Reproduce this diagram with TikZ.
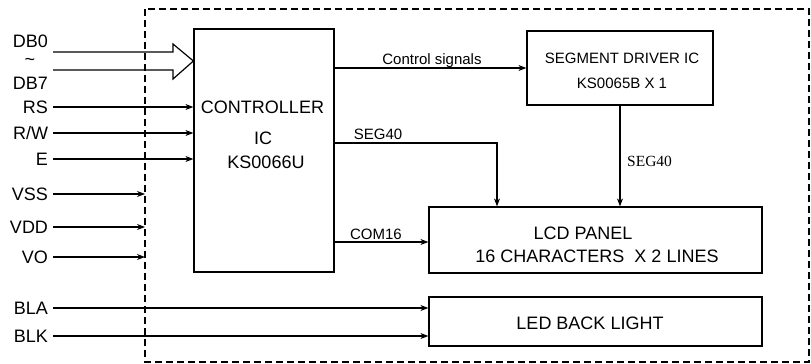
\documentclass[tikz,border=0pt]{standalone}
\usepackage{fontspec}
\setmainfont{Liberation Sans}
\newfontfamily\seriffont{Liberation Serif}
\usetikzlibrary{arrows.meta}

\tikzset{
  box/.style={draw, line width=1.2pt, inner sep=0pt},
  pin/.style={font=\fontsize{18}{20}\selectfont, anchor=east, inner sep=0pt, outer xsep=5pt, text height=13pt, text depth=0pt},
  txt/.style={font=\fontsize{18}{20}\selectfont, inner sep=0pt, text height=13pt, text depth=0pt},
  sig/.style={font=\fontsize{15}{17}\selectfont, inner sep=0pt, text height=11pt, text depth=0pt},
  wire/.style={line width=1.2pt, -{Stealth[length=8pt,width=6pt]}},
}

\begin{document}
\begin{tikzpicture}[x=1pt,y=-1pt]
    \useasboundingbox (0,0) rectangle (811,364);

    % Module outline
    \draw[line width=1.2pt, dash pattern=on 7pt off 4pt] (145,9) rectangle (809,362);
    \coordinate (mod) at (145,9);

    % Blocks
    \node[box, minimum width=140pt, minimum height=243pt] (ctrl) at (264,150.5) {};
    \node[box, minimum width=186pt, minimum height=74pt] (seg) at (620,68) {};
    \node[box, minimum width=333pt, minimum height=66pt] (lcd) at (595.5,240) {};
    \node[box, minimum width=333pt, minimum height=49pt] (led) at (595.5,321.5) {};

    % Block texts
    \node[txt] (ctrlA) at (262.5,107) {CONTROLLER};
    \node[txt] (ctrlB) at (263,138) {IC};
    \node[txt] (ctrlC) at (266,162) {KS0066U};
    \node[sig] (segA) at (622,58) {SEGMENT DRIVER IC};
    \node[sig] (segB) at (622,83) {KS0065B X 1};
    \node[txt] (lcdA) at (583,233) {LCD PANEL};
    \node[txt] (lcdB) at (597,256) {16 CHARACTERS\ \ X 2 LINES};
    \node[txt] (ledA) at (590,323) {LED BACK LIGHT};

    % Pin names
    \node[pin] (db0) at (53,41) {DB0};
    \node[txt] (tilde) at (30,62) {\raisebox{3pt}{\textasciitilde}};
    \node[pin] (db7) at (53,83) {DB7};
    \node[pin] (rs) at (53,107) {RS};
    \node[pin] (rw) at (53,133) {R/W};
    \node[pin] (e) at (53,159) {E};
    \node[pin] (vss) at (53,194) {VSS};
    \node[pin] (vdd) at (53,227) {VDD};
    \node[pin] (vo) at (53,257) {VO};
    \node[pin] (bla) at (53,308) {BLA};
    \node[pin] (blk) at (53,336) {BLK};

    % Data bus arrow
    \draw[line width=1.2pt, line join=miter] (53,52) -- (173,52) -- (173,44) -- (ctrl.west |- 0,61)
        -- (173,79) -- (173,70) -- (53,70);

    % Control inputs
    \draw[wire] (rs.east) -- (rs.east -| ctrl.west);
    \draw[wire] (rw.east) -- (rw.east -| ctrl.west);
    \draw[wire] (e.east) -- (e.east -| ctrl.west);

    % Supply inputs
    \draw[wire] (vss.east) -- (vss.east -| mod);
    \draw[wire] (vdd.east) -- (vdd.east -| mod);
    \draw[wire] (vo.east) -- (vo.east -| mod);

    % Backlight
    \draw[wire] (bla.east) -- (bla.east -| led.west);
    \draw[wire] (blk.east) -- (blk.east -| led.west);

    % Internal signals
    \draw[wire] (ctrl.east |- seg.west) -- (seg.west);
    \node[sig] (ctl) at (432,58.5) {Control signals};

    \coordinate (tap) at (497,143);
    \draw[wire] (tap -| ctrl.east) -- (tap) -- (tap |- lcd.north);
    \node[sig] (segA40) at (378,133.5) {SEG40};

    \draw[wire] (seg.south) -- (seg.south |- lcd.north);
    \node[sig, anchor=west, font=\seriffont\fontsize{15.5}{17}\selectfont] (segB40) at (627,160.5) {SEG40};

    \draw[wire] (ctrl.east |- 0,242) -- (lcd.west |- 0,242);
    \node[sig] (com) at (376,234) {COM16};
\end{tikzpicture}
\end{document}
